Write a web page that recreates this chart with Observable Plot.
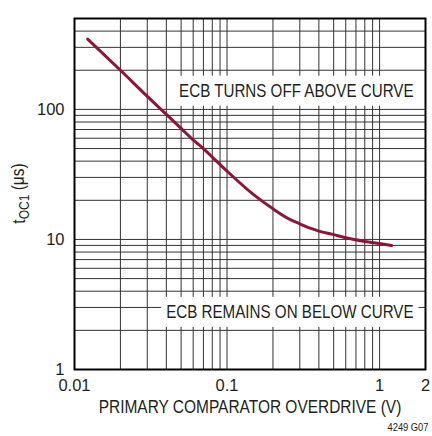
<!DOCTYPE html>
<html><head><meta charset="utf-8">
<script src="https://cdn.jsdelivr.net/npm/d3@7"></script>
<script src="https://cdn.jsdelivr.net/npm/@observablehq/plot@0.6"></script>
<style>
body{margin:0;background:#fff;}
#chart{width:432px;height:436px;}
</style></head><body><div id="chart"></div>
<script>
// Data
const overdriveV = [0.0122, 0.02, 0.03, 0.04, 0.05, 0.06, 0.07, 0.08, 0.1,  0.15, 0.2,  0.26, 0.3,  0.35, 0.4,  0.5,  0.6,  0.8,  1.0,  1.2];
const tOC1us     = [347,    200,  126,  91.5, 71.4, 58.2, 50,   43,   33.5, 22,   17.2, 14.2, 13.2, 12.2, 11.6, 10.9, 10.3, 9.66, 9.3, 9.0];
const xTicks = [0.01, 0.1, 1, 2];
const yTicks = [1, 10, 100, 500];
const annotTexts = ["ECB TURNS OFF ABOVE CURVE", "ECB REMAINS ON BELOW CURVE"];
const annotX = [1.67, 1.67];
const annotY = [139, 2.77];
const xLabel = "PRIMARY COMPARATOR OVERDRIVE (V)";
const figId = "4249 G07";

const curve = overdriveV.map((v, i) => ({v, t: tOC1us[i]}));
const annots = annotTexts.map((s, i) => ({s, x: annotX[i], y: annotY[i]}));
const xGrid = [...d3.range(2, 10).map(d => d / 100), ...d3.range(1, 10).map(d => d / 10), 1];
const yGrid = [...d3.range(2, 10), ...d3.range(1, 10).map(d => d * 10), 100, 200, 300, 400];

const FONT = "'Liberation Sans', Arial, sans-serif";
const INK = "#231f20";

const plot = Plot.plot({
  width: 432, height: 436,
  marginLeft: 74, marginRight: 7, marginTop: 18, marginBottom: 67,
  style: {fontFamily: FONT, fontSize: "16.5px", color: INK, background: "white"},
  x: {type: "log", domain: [0.01, 2]},
  y: {type: "log", domain: [1, 500]},
  marks: [
    Plot.gridX(xGrid, {stroke: "#333", strokeOpacity: 1, strokeWidth: 1}),
    Plot.gridY(yGrid, {stroke: "#333", strokeOpacity: 1, strokeWidth: 1}),
    Plot.text(annots, {x: "x", y: "y", text: "s", textAnchor: "end", fontSize: 18.5, fill: INK}),
    Plot.line(curve, {x: "v", y: "t", stroke: "#8c1538", strokeWidth: 3, curve: "monotone-x"}),
    Plot.frame({stroke: "#000", strokeWidth: 2}),
    Plot.axisX(xTicks, {tickSize: 0, tickPadding: 10, tickFormat: d => String(d), label: null, fontSize: 16.5}),
    Plot.axisY(yTicks, {tickSize: 0, tickPadding: 10, tickFormat: d => String(d), label: null, fontSize: 16.5}),
    Plot.text([xLabel], {frameAnchor: "bottom", dy: 43, text: d => d, fontSize: 18, fill: INK}),
    Plot.text([figId], {frameAnchor: "bottom-right", dx: 3, dy: 61, textAnchor: "end", text: d => d, fontSize: 11, fill: INK})
  ]
});
document.getElementById("chart").appendChild(plot);
const svg = d3.select(plot);

// condensed look: squeeze glyphs horizontally about the text anchor
function condense(el, f) {
  const tr = el.getAttribute("transform") || "";
  el.setAttribute("transform", tr + ` scale(${f},1)`);
}

svg.selectAll('g[aria-label="text"] text').each(function() {
  const s = this.textContent;
  if (s === xLabel) { condense(this, 0.86); return; }
  if (s === figId) { condense(this, 0.85); return; }
  // annotation: squeeze, then draw a white box behind it
  condense(this, 0.82);
  const b = this.getBBox();
  const r = document.createElementNS("http://www.w3.org/2000/svg", "rect");
  r.setAttribute("x", b.x - 6);
  r.setAttribute("y", b.y + b.height / 2 - 15);
  r.setAttribute("width", b.width + 12);
  r.setAttribute("height", 30);
  r.setAttribute("fill", "white");
  r.setAttribute("transform", this.getAttribute("transform"));
  this.parentNode.insertBefore(r, this);
});

// y-axis label with subscript
const yl = svg.append("text")
  .attr("transform", "translate(25,193.5) rotate(-90) scale(0.86,1)")
  .attr("text-anchor", "middle")
  .attr("font-family", FONT)
  .attr("font-size", 18)
  .attr("fill", INK);
yl.append("tspan").text("t");
yl.append("tspan").attr("font-size", 14).attr("dy", "0.3em").text("OC1");
yl.append("tspan").attr("dy", "-0.3em").text(" (μs)");
</script></body></html>
